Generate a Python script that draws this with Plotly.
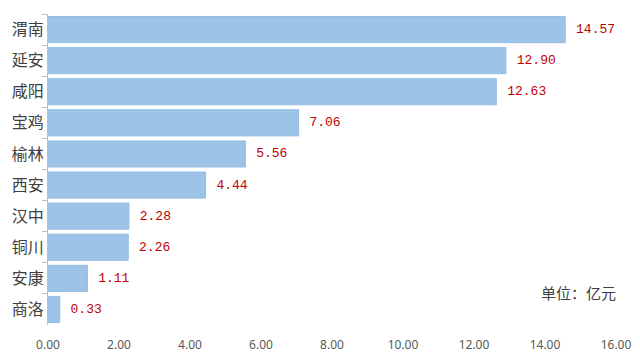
import plotly.graph_objects as go

cities = ["渭南", "延安", "咸阳", "宝鸡", "榆林", "西安", "汉中", "铜川", "安康", "商洛"]
values = [14.57, 12.90, 12.63, 7.06, 5.56, 4.44, 2.28, 2.26, 1.11, 0.33]
unit_label = "单位：亿元"

fig = go.Figure(go.Bar(
    x=values, y=cities, orientation="h",
    marker=dict(color="#9dc3e6", line=dict(color="#94bde3", width=1)),
    text=[" " + f"{v:.2f}" for v in values],
    textposition="outside",
    textfont=dict(family="Liberation Mono", size=13, color="#c00000"),
    cliponaxis=False,
    width=0.84,
))

fig.update_layout(
    width=640, height=353,
    margin=dict(l=48, r=24, t=14, b=28),
    plot_bgcolor="white", paper_bgcolor="white",
    showlegend=False,
    xaxis=dict(range=[0, 16], dtick=2, tickformat=".2f", showgrid=False, zeroline=False,
               showline=False, ticks="outside", ticklen=9, tickcolor="rgba(0,0,0,0)",
               tickfont=dict(family="Noto Sans", size=12, color="#595959"),
               automargin=False, fixedrange=True),
    yaxis=dict(autorange="reversed", showgrid=False, showline=True, linecolor="#bfbfbf",
               ticks="outside", tickson="boundaries", ticklen=5, tickcolor="#bfbfbf",
               automargin=False,
               tickfont=dict(family="Noto Sans CJK SC", size=16, color="#404040")),
    annotations=[dict(text=unit_label, xref="paper", yref="paper", x=1.003, y=0.105,
                      xanchor="right", yanchor="middle", showarrow=False,
                      font=dict(family="Noto Sans CJK SC", size=15, color="#404040"))],
)

fig.write_html("out.html")
